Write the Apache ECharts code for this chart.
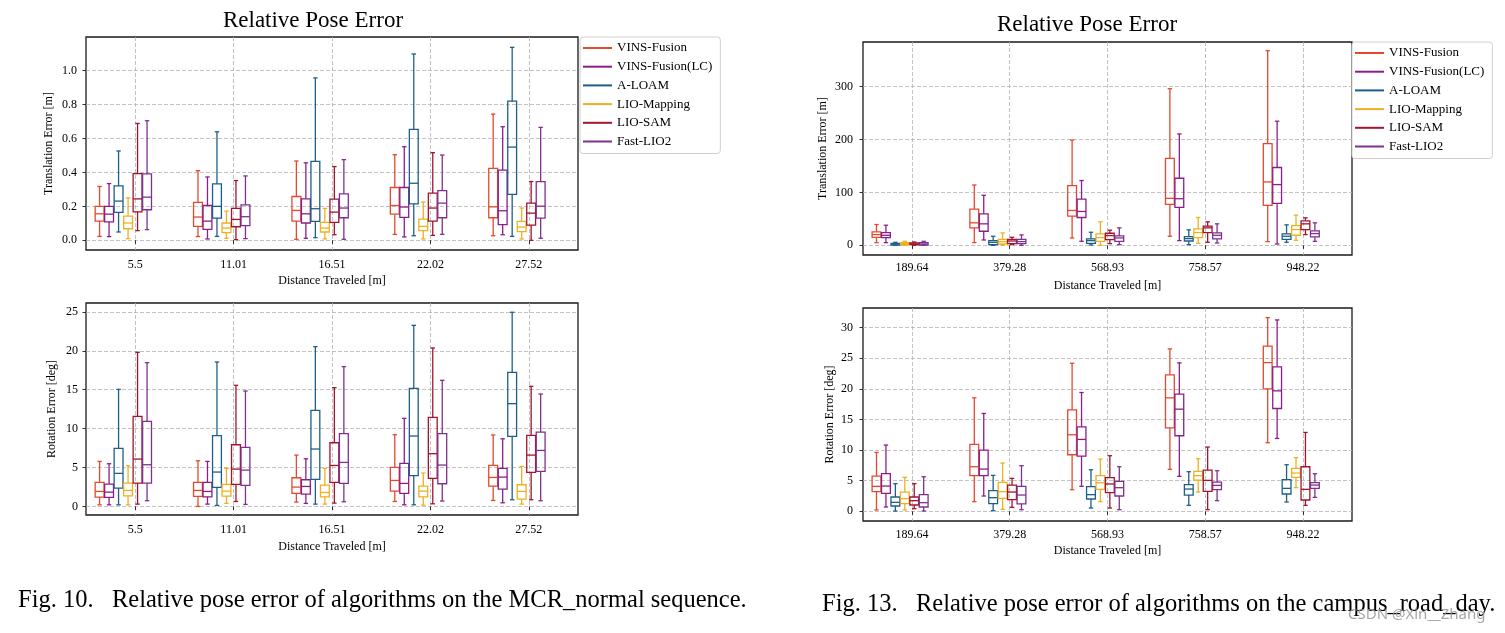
<!DOCTYPE html>
<html><head><meta charset="utf-8">
<script src="https://cdn.jsdelivr.net/npm/echarts@6/dist/echarts.min.js"></script>
<style>html,body{margin:0;padding:0;background:#fff}#c{width:1505px;height:633px}</style>
</head><body><div id="c"></div>
<script>
// ---------------- DATA ----------------
const algoNames = ['VINS-Fusion', 'VINS-Fusion(LC)', 'A-LOAM', 'LIO-Mapping', 'LIO-SAM', 'Fast-LIO2'];
const mcrDistLabels = ['5.5', '11.01', '16.51', '22.02', '27.52'];
const campusDistLabels = ['189.64', '379.28', '568.93', '758.57', '948.22'];
const mcrTransTicks = [0, 0.2, 0.4, 0.6, 0.8, 1.0];
const mcrRotTicks = [0, 5, 10, 15, 20, 25];
const campusTransTicks = [0, 100, 200, 300];
const campusRotTicks = [0, 5, 10, 15, 20, 25, 30];

// each box: [whiskerLow, Q1, median, Q3, whiskerHigh]
const mcrTransVINS   = [[0.023,0.113,0.156,0.2,0.317],[0.022,0.082,0.137,0.223,0.41],[0.006,0.113,0.176,0.258,0.467],[0.035,0.154,0.205,0.311,0.504],[0.027,0.133,0.197,0.424,0.743]];
const mcrTransLC     = [[0.022,0.108,0.154,0.2,0.334],[0.008,0.065,0.113,0.205,0.373],[0.012,0.102,0.156,0.244,0.456],[0.02,0.135,0.196,0.311,0.551],[0.033,0.092,0.174,0.413,0.669]];
const mcrTransALOAM  = [[0.049,0.164,0.231,0.32,0.526],[0.023,0.131,0.2,0.332,0.639],[0.016,0.111,0.186,0.465,0.956],[0.027,0.215,0.336,0.653,1.097],[0.023,0.27,0.549,0.819,1.136]];
const mcrTransLIOM   = [[0.01,0.068,0.102,0.143,0.25],[0.012,0.045,0.072,0.102,0.172],[0.008,0.049,0.072,0.106,0.188],[0.008,0.057,0.082,0.125,0.225],[0.008,0.051,0.078,0.111,0.19]];
const mcrTransLIOSAM = [[0.057,0.168,0.244,0.393,0.688],[0.004,0.08,0.123,0.188,0.352],[0.033,0.106,0.166,0.242,0.434],[0.029,0.113,0.19,0.278,0.516],[0.0,0.09,0.16,0.219,0.346]];
const mcrTransFLIO   = [[0.063,0.18,0.254,0.391,0.704],[0.01,0.086,0.139,0.209,0.379],[0.006,0.133,0.19,0.274,0.475],[0.035,0.133,0.219,0.293,0.502],[0.012,0.131,0.201,0.346,0.665]];

const mcrRotVINS   = [[0.21,1.2,1.93,3.09,5.79],[0,1.29,2.06,3.09,5.87],[0.56,1.67,2.49,3.69,6.6],[0.64,1.97,3.34,5.02,9.22],[0.77,2.62,3.73,5.27,9.18]];
const mcrRotLC     = [[0.21,1.16,1.84,2.87,5.49],[0.3,1.24,1.93,3.09,5.79],[0.39,1.59,2.57,3.43,6.13],[0.21,1.67,2.96,5.53,11.32],[0.47,2.23,3.77,4.89,8.7]];
const mcrRotALOAM  = [[0.21,2.36,4.25,7.46,15.05],[0.13,2.44,4.42,9.09,18.57],[0.3,3.47,7.38,12.35,20.54],[0.21,3.95,9.05,15.18,23.28],[0.86,9.01,13.21,17.24,24.96]];
const mcrRotLIOM   = [[0.21,1.37,2.06,3.0,5.23],[0.39,1.33,1.97,2.83,4.89],[0.3,1.24,1.8,2.74,4.89],[0.17,1.24,1.97,2.62,4.29],[0.3,0.94,1.93,2.79,5.15]];
const mcrRotLIOSAM = [[0.3,3.0,6.09,11.58,19.81],[0.64,2.83,4.8,7.93,15.57],[0.43,3.09,5.27,8.19,15.27],[0.34,3.6,6.78,11.45,20.37],[0.86,4.37,6.6,9.13,15.44]];
const mcrRotFLIO   = [[0.73,3.0,5.36,10.93,18.48],[0.26,2.7,4.67,7.59,14.84],[0.6,2.96,5.66,9.35,17.97],[0.69,2.92,5.32,9.35,16.21],[0.73,4.5,7.2,9.56,14.45]];

const campusTransVINS   = [[5.1,15.2,20.3,25.4,39.3],[5.1,33,42.5,68.5,114],[13.9,55.2,65.9,112.9,199],[17.1,77.4,88.8,164.2,296],[7,75.5,119.8,192.1,367.8]];
const campusTransLC     = [[5.1,14.6,19,24.1,38],[10.1,26.6,40.6,59.6,94.5],[7.6,52.6,64,87.5,122.4],[8.9,71.6,88.1,126.8,210.5],[2.5,79.3,114.8,147.1,234.6]];
const campusTransALOAM  = [[0,0.6,2.5,3.8,5.7],[0,1.3,5.7,8.9,17.1],[0.6,3.8,8.9,12,24.7],[1.3,8.2,12.7,16.5,29.2],[5.7,11.4,17.1,21.6,38.7]];
const campusTransLIOM   = [[0,1.3,3.2,5.1,7.6],[0,2.5,7,11.4,23.5],[0,7.6,14.6,21.6,44.4],[3.8,14.6,24.1,31.1,52.6],[9.5,19,29.8,37.4,57.1]];
const campusTransLIOSAM = [[0,1.3,2.5,4.4,6.3],[1.3,3.2,8.2,11.4,15.2],[3.2,10.8,18.4,22.8,28.5],[5.7,24.1,33,36.1,44.4],[20.3,29.8,40.6,46.3,52]];
const campusTransFLIO   = [[0,0.6,2.5,5.1,7.6],[0,3.2,7,11.4,19.7],[1.3,7.6,13.9,17.8,33],[4.4,12,19,23.5,40.6],[7.6,15.9,22.2,27.3,42.5]];

const campusRotVINS   = [[0.22,3.21,4.08,5.76,9.62],[1.58,5.82,7.28,10.92,18.53],[3.53,9.24,12.5,16.58,24.18],[6.85,13.64,18.53,22.28,26.52],[11.2,20.0,24.29,26.96,31.63]];
const campusRotLC     = [[0.71,2.93,4.13,6.14,10.82],[2.5,5.82,6.9,10.0,15.98],[4.08,9.02,11.74,13.8,19.4],[5.71,12.34,16.68,19.13,24.24],[11.9,16.79,19.67,23.59,31.25]];
const campusRotALOAM  = [[0.05,0.87,1.47,2.34,4.51],[0.11,1.25,2.23,3.37,5.87],[0.54,2.01,2.72,4.02,6.79],[0.98,2.66,3.64,4.35,6.47],[1.52,2.83,3.75,5.16,7.61]];
const campusRotLIOM   = [[0.22,1.25,2.07,3.15,5.54],[0.33,2.12,3.21,4.73,7.88],[1.58,3.59,4.67,5.82,8.53],[3.15,5.11,5.82,6.52,8.59],[3.86,5.54,6.25,7.01,8.75]];
const campusRotLIOSAM = [[0.43,1.03,1.74,2.34,4.51],[0.65,1.9,3.15,4.29,5.38],[0.54,3.04,4.46,5.49,9.08],[0.27,3.26,5.05,6.74,10.49],[0.98,1.85,3.59,7.28,12.88]];
const campusRotFLIO   = [[0.05,0.71,1.41,2.72,5.65],[0.27,1.2,2.66,4.08,7.45],[0.27,2.5,3.86,4.89,7.28],[1.74,3.53,4.24,4.78,6.63],[2.28,3.75,4.29,4.67,6.14]];

// ---------------- STYLE / LAYOUT ----------------
const COLORS = ['#e4492e', '#8c1e8c', '#1d5f89', '#edb120', '#a2142f', '#7f3190'];
const SERIF = '"Liberation Serif", "Times New Roman", serif';
const BOX_START = -0.362, BOX_STEP = 0.0965, BOX_W = 0.09;

const panels = [
  { grid: {left: 86, top: 37, width: 492, height: 213}, cats: mcrDistLabels, ticks: mcrTransTicks,
    yMin: -0.057, yMax: 1.197, split: 6, fmt: v => Number(v).toFixed(1), yName: 'Translation Error [m]',
    yNameGap: 31, yLabMargin: 9, xLabMargin: 9, xNameGap: 25,
    sets: [mcrTransVINS, mcrTransLC, mcrTransALOAM, mcrTransLIOM, mcrTransLIOSAM, mcrTransFLIO] },
  { grid: {left: 86, top: 303, width: 492, height: 212}, cats: mcrDistLabels, ticks: mcrRotTicks,
    yMin: -1.1, yMax: 26.15, split: 5, fmt: v => String(v), yName: 'Rotation Error [deg]',
    yNameGap: 28, yLabMargin: 8, xLabMargin: 9, xNameGap: 26,
    sets: [mcrRotVINS, mcrRotLC, mcrRotALOAM, mcrRotLIOM, mcrRotLIOSAM, mcrRotFLIO] },
  { grid: {left: 863, top: 42, width: 489, height: 213}, cats: campusDistLabels, ticks: campusTransTicks,
    yMin: -18.3, yMax: 384.3, split: 5, fmt: v => String(v), yName: 'Translation Error [m]',
    yNameGap: 34, yLabMargin: 10, xLabMargin: 7, xNameGap: 25,
    sets: [campusTransVINS, campusTransLC, campusTransALOAM, campusTransLIOM, campusTransLIOSAM, campusTransFLIO] },
  { grid: {left: 863, top: 308, width: 489, height: 213}, cats: campusDistLabels, ticks: campusRotTicks,
    yMin: -1.58, yMax: 33.2, split: 5, fmt: v => String(v), yName: 'Rotation Error [deg]',
    yNameGap: 27, yLabMargin: 10, xLabMargin: 8, xNameGap: 24,
    sets: [campusRotVINS, campusRotLC, campusRotALOAM, campusRotLIOM, campusRotLIOSAM, campusRotFLIO] }
];

const gridLine = {show: true, lineStyle: {color: '#b4b4b4', width: 0.8, type: [4, 2]}};
const tickStyle = {color: '#000', width: 0.8};
const labelFont = {color: '#000', fontFamily: SERIF, fontSize: 12};

function makeRender(ai) {
  return function (params, api) {
    const k = api.value(0);
    const band = api.size([1, 0])[0];
    const cx = api.coord([k, 0])[0] + (BOX_START + BOX_STEP * ai) * band;
    const w = BOX_W * band, hw = w / 2, cap = w / 4;
    const y = [1, 2, 3, 4, 5].map(j => api.coord([k, api.value(j)])[1]);
    const st = {stroke: COLORS[ai], lineWidth: 1.3, fill: 'none'};
    return {
      type: 'group',
      children: [
        {type: 'rect', shape: {x: cx - hw, y: y[3], width: w, height: y[1] - y[3]}, style: st},
        {type: 'line', shape: {x1: cx - hw, y1: y[2], x2: cx + hw, y2: y[2]}, style: st},
        {type: 'line', shape: {x1: cx, y1: y[1], x2: cx, y2: y[0]}, style: st},
        {type: 'line', shape: {x1: cx, y1: y[3], x2: cx, y2: y[4]}, style: st},
        {type: 'line', shape: {x1: cx - cap, y1: y[0], x2: cx + cap, y2: y[0]}, style: st},
        {type: 'line', shape: {x1: cx - cap, y1: y[4], x2: cx + cap, y2: y[4]}, style: st}
      ]
    };
  };
}

const grids = [], xAxes = [], yAxes = [], series = [];
panels.forEach((p, gi) => {
  grids.push(Object.assign({show: true, borderColor: '#1a1a1a', borderWidth: 1.3, backgroundColor: 'transparent', containLabel: false}, p.grid));
  xAxes.push({
    type: 'category', gridIndex: gi, data: p.cats, boundaryGap: true,
    axisLine: {show: false},
    axisTick: {show: true, alignWithLabel: true, length: 3.5, lineStyle: tickStyle},
    axisLabel: Object.assign({margin: p.xLabMargin}, labelFont),
    splitLine: Object.assign({alignWithLabel: true}, gridLine),
    name: 'Distance Traveled [m]', nameLocation: 'middle', nameGap: p.xNameGap,
    nameTextStyle: labelFont
  });
  yAxes.push({
    type: 'value', gridIndex: gi, min: p.yMin, max: p.yMax, splitNumber: p.split,
    axisLine: {show: false},
    axisTick: {show: true, length: 3.5, lineStyle: tickStyle, customValues: p.ticks},
    axisLabel: Object.assign({margin: p.yLabMargin, formatter: p.fmt, customValues: p.ticks}, labelFont),
    splitLine: gridLine,
    name: p.yName, nameLocation: 'middle', nameGap: p.yNameGap, nameRotate: 90,
    nameTextStyle: labelFont
  });
  p.sets.forEach((arr, ai) => {
    series.push({
      type: 'custom', name: algoNames[ai], xAxisIndex: gi, yAxisIndex: gi,
      itemStyle: {color: COLORS[ai]},
      data: arr.map((d, k) => [k].concat(d)),
      encode: {x: 0, y: [1, 2, 3, 4, 5]},
      renderItem: makeRender(ai), silent: true, z: 3
    });
  });
});

const legendBase = {
  data: algoNames, orient: 'vertical', icon: 'rect', itemWidth: 29, itemHeight: 2, itemGap: 2.7,
  padding: [3, 8, 4, 3], borderColor: '#cfcfcf', borderWidth: 1, borderRadius: 3, backgroundColor: '#fff',
  selectedMode: false, textStyle: {fontFamily: SERIF, fontSize: 13, color: '#000', lineHeight: 16}
};

const titleFont = '23px "Liberation Serif", serif';
const capFont = '24.5px "Liberation Serif", serif';
const option = {
  animation: false,
  backgroundColor: '#fff',
  grid: grids, xAxis: xAxes, yAxis: yAxes, series: series,
  legend: [Object.assign({left: 580, top: 37}, legendBase), Object.assign({left: 1352, top: 42}, legendBase)],
  graphic: [
    {type: 'text', x: 313, y: 21, style: {text: 'Relative Pose Error', font: titleFont, fill: '#000', align: 'center', verticalAlign: 'middle', textAlign: 'center', textVerticalAlign: 'middle'}},
    {type: 'text', x: 1087, y: 25, style: {text: 'Relative Pose Error', font: titleFont, fill: '#000', align: 'center', verticalAlign: 'middle', textAlign: 'center', textVerticalAlign: 'middle'}},
    {type: 'text', x: 18, y: 601, style: {text: 'Fig. 10.   Relative pose error of algorithms on the MCR_normal sequence.', font: capFont, fill: '#000', align: 'left', verticalAlign: 'middle', textAlign: 'left', textVerticalAlign: 'middle'}},
    {type: 'text', x: 822, y: 605, style: {text: 'Fig. 13.   Relative pose error of algorithms on the campus_road_day.', font: capFont, fill: '#000', align: 'left', verticalAlign: 'middle', textAlign: 'left', textVerticalAlign: 'middle'}},
    {type: 'text', x: 1348, y: 615, z: 10, style: {text: 'CSDN @Xin__Zhang', font: '15px "Noto Sans", sans-serif', fill: 'rgba(150,150,150,0.85)', align: 'left', verticalAlign: 'middle', textAlign: 'left', textVerticalAlign: 'middle'}}
  ]
};

const chart = echarts.init(document.getElementById('c'), null, {renderer: 'canvas'});
chart.setOption(option);
</script>
</body></html>
